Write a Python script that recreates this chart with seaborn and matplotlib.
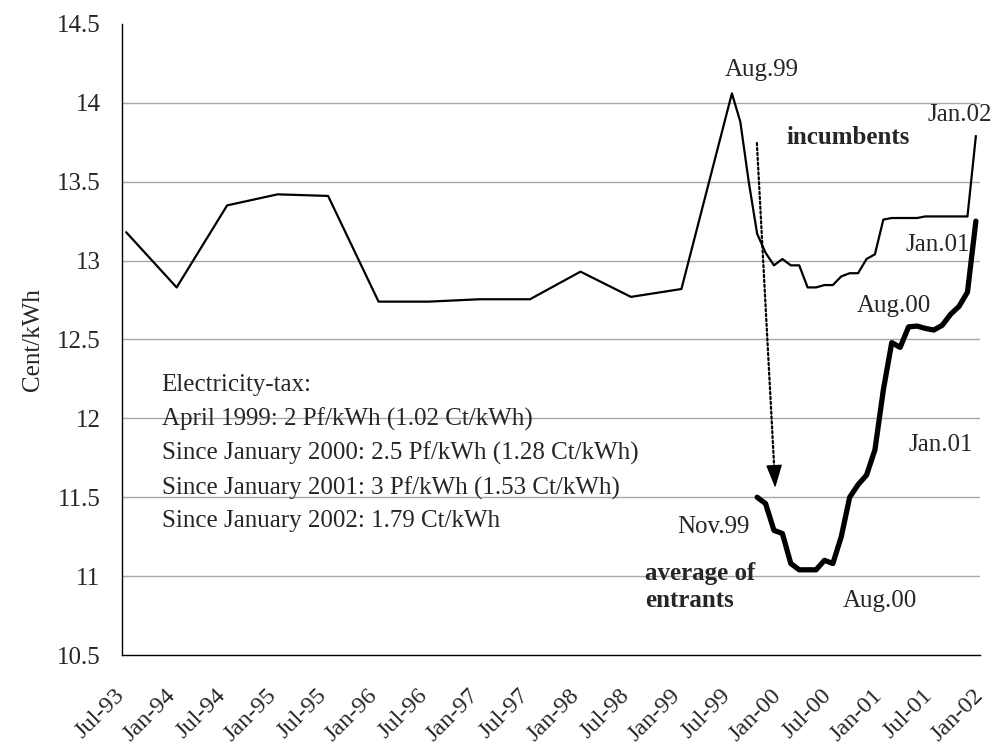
import numpy as np
import pandas as pd
import seaborn as sns
import matplotlib.pyplot as plt

# incumbents: semi-annual until mid-1999, then monthly
inc_months = ["1993-07", "1994-01", "1994-07", "1995-01", "1995-07", "1996-01",
              "1996-07", "1997-01", "1997-07", "1998-01", "1998-07", "1999-01",
              "1999-07", "1999-08", "1999-09", "1999-10", "1999-11", "1999-12",
              "2000-01", "2000-02", "2000-03", "2000-04", "2000-05", "2000-06",
              "2000-07", "2000-08", "2000-09", "2000-10", "2000-11", "2000-12",
              "2001-01", "2001-02", "2001-03", "2001-04", "2001-05", "2001-06",
              "2001-07", "2001-08", "2001-09", "2001-10", "2001-11", "2001-12"]
inc_values = [13.18, 12.83, 13.35, 13.42, 13.41, 12.74,
              12.74, 12.755, 12.755, 12.93, 12.77, 12.82,
              14.06, 13.88, 13.50, 13.17, 13.05, 12.97,
              13.01, 12.97, 12.97, 12.83, 12.83, 12.845,
              12.845, 12.90, 12.92, 12.92, 13.01, 13.04,
              13.26, 13.27, 13.27, 13.27, 13.27, 13.28,
              13.28, 13.28, 13.28, 13.28, 13.28, 13.79]

# average of entrants, monthly Oct-99 .. Dec-01
ent_months = [str(p) for p in pd.period_range("1999-10", "2001-12", freq="M")]
ent_values = [11.50, 11.46, 11.29, 11.27, 11.08, 11.04, 11.04, 11.04, 11.10,
              11.08, 11.25, 11.50, 11.58, 11.64, 11.80, 12.18, 12.48, 12.45,
              12.58, 12.585, 12.57, 12.56, 12.59, 12.66, 12.71, 12.80, 13.25]

tick_labels = ["Jul-93", "Jan-94", "Jul-94", "Jan-95", "Jul-95", "Jan-96",
               "Jul-96", "Jan-97", "Jul-97", "Jan-98", "Jul-98", "Jan-99",
               "Jul-99", "Jan-00", "Jul-00", "Jan-01", "Jul-01", "Jan-02"]

tax_note = ["Electricity-tax:",
            "April 1999: 2 Pf/kWh (1.02 Ct/kWh)",
            "Since January 2000: 2.5 Pf/kWh (1.28 Ct/kWh)",
            "Since January 2001: 3 Pf/kWh (1.53 Ct/kWh)",
            "Since January 2002: 1.79 Ct/kWh"]

start = pd.Period("1993-07", freq="M")


def to_x(months):
    # month index since Jul-93, points sit mid-month
    return np.array([(pd.Period(m, freq="M") - start).n for m in months]) + 0.5


inc = pd.DataFrame({"x": to_x(inc_months), "y": inc_values})
ent = pd.DataFrame({"x": to_x(ent_months), "y": ent_values})

sns.set_style("white")
plt.rcParams["font.family"] = ["Liberation Serif", "DejaVu Serif"]
fs = 18

fig = plt.figure(figsize=(9.94, 7.49), dpi=100)
ax = fig.add_axes([0.1227, 0.1255, 0.8633, 0.8425])

sns.lineplot(data=inc, x="x", y="y", color="black", linewidth=1.6, ax=ax)
sns.lineplot(data=ent, x="x", y="y", color="black", linewidth=3.8, ax=ax,
             solid_joinstyle="round", solid_capstyle="round")

ax.set_xlim(0, 102)
ax.set_ylim(10.5, 14.5)
ax.set_yticks(np.arange(10.5, 14.51, 0.5))
ax.set_yticklabels(["10.5", "11", "11.5", "12", "12.5", "13", "13.5", "14", "14.5"])
ax.set_xticks(np.arange(0, 103, 6))
ax.set_xticklabels(tick_labels, rotation=45, ha="right", va="center",
                   rotation_mode="anchor")
ax.tick_params(axis="both", labelsize=fs, direction="out", length=6, width=1,
               color="black")
ax.tick_params(axis="y", pad=9.5)
ax.tick_params(axis="x", labelsize=17.5, pad=21)
ax.yaxis.grid(True, color="#a8a8a8", linewidth=1)
ax.get_ygridlines()[-1].set_visible(False)
ax.get_ygridlines()[0].set_visible(False)
for s in ["top", "right"]:
    ax.spines[s].set_visible(False)
for s in ["left", "bottom"]:
    ax.spines[s].set_color("black")
    ax.spines[s].set_linewidth(1)
ax.set_xlabel("")
ax.set_ylabel("Cent/kWh", fontsize=fs, labelpad=9)

# dotted shaft + solid head
ax.annotate("", xy=(77.53, 11.685), xytext=(75.47, 13.745),
            arrowprops=dict(arrowstyle="-", linestyle=(0, (1, 1.2)), color="black",
                            linewidth=1.6, shrinkA=0, shrinkB=0))
ax.annotate("", xy=(77.65, 11.56), xytext=(77.53, 11.685),
            arrowprops=dict(arrowstyle="-|>,head_length=0.8,head_width=0.28",
                            color="black", linewidth=1, mutation_scale=18,
                            shrinkA=0, shrinkB=0))

ax.text(76.1, 14.21, "Aug.99", fontsize=fs, ha="center", va="center")
ax.text(86.3, 13.78, "incumbents", fontsize=fs, ha="center", va="center",
        fontweight="bold")
ax.text(95.7, 13.92, "Jan.02", fontsize=fs, ha="left", va="center")
ax.text(97.0, 13.10, "Jan.01", fontsize=fs, ha="center", va="center")
ax.text(91.8, 12.71, "Aug.00", fontsize=fs, ha="center", va="center")
ax.text(97.3, 11.83, "Jan.01", fontsize=fs, ha="center", va="center")
ax.text(70.3, 11.31, "Nov.99", fontsize=fs, ha="center", va="center")
ax.text(62.2, 10.93, "average of\nentrants", fontsize=fs, ha="left",
        va="center", fontweight="bold", linespacing=1.2)
ax.text(90.1, 10.84, "Aug.00", fontsize=fs, ha="center", va="center")
ax.text(4.7, 12.28, "\n".join(tax_note), fontsize=fs, ha="left", va="top",
        linespacing=1.62)

fig.savefig("out.png", dpi=100)
